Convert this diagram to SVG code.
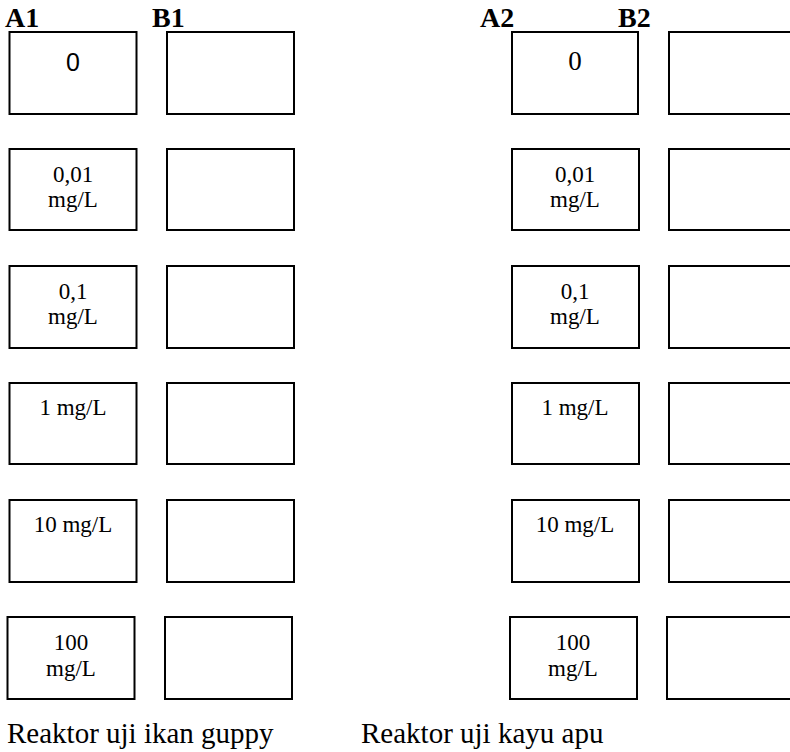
<svg xmlns="http://www.w3.org/2000/svg" width="790" height="752" viewBox="0 0 790 752">
<style>
.b{fill:#fff;stroke:#000;stroke-width:2}
.t{font-family:"Liberation Serif","Times New Roman",serif;font-size:23px;fill:#000;text-anchor:middle}
.s{font-family:"Liberation Sans",Arial,sans-serif;font-size:25px;fill:#000;text-anchor:middle}
.z{font-family:"Liberation Serif","Times New Roman",serif;font-size:27px;fill:#000;text-anchor:middle}
.h{font-family:"Liberation Serif","Times New Roman",serif;font-size:28px;font-weight:bold;fill:#000}
.c{font-family:"Liberation Serif","Times New Roman",serif;font-size:29px;fill:#000}
</style>
<rect width="790" height="752" fill="#fff"/>
<g id="headers">
<text class="h" x="5" y="27">A1</text>
<text class="h" x="152" y="27">B1</text>
<text class="h" x="480" y="27">A2</text>
<text class="h" x="618" y="27">B2</text>
</g>
<g id="A1-0"><rect class="b" x="9.5" y="32" width="127" height="82"/><text class="s" x="73" y="71">0</text></g>
<g id="B1-0"><rect class="b" x="167" y="32" width="127" height="82"/></g>
<g id="A1-001"><rect class="b" x="9.5" y="149" width="127" height="81"/><text class="t" x="73" y="182">0,01</text><text class="t" x="73" y="207">mg/L</text></g>
<g id="B1-001"><rect class="b" x="167" y="149" width="127" height="81"/></g>
<g id="A1-01"><rect class="b" x="9.5" y="266" width="127" height="82"/><text class="t" x="73" y="299">0,1</text><text class="t" x="73" y="324">mg/L</text></g>
<g id="B1-01"><rect class="b" x="167" y="266" width="127" height="82"/></g>
<g id="A1-1"><rect class="b" x="9.5" y="383" width="127" height="81"/><text class="t" x="73" y="415">1 mg/L</text></g>
<g id="B1-1"><rect class="b" x="167" y="383" width="127" height="81"/></g>
<g id="A1-10"><rect class="b" x="9.5" y="500" width="127" height="82"/><text class="t" x="73" y="532">10 mg/L</text></g>
<g id="B1-10"><rect class="b" x="167" y="500" width="127" height="82"/></g>
<g id="A1-100"><rect class="b" x="7.5" y="617" width="127" height="82"/><text class="t" x="71" y="650">100</text><text class="t" x="71" y="676">mg/L</text></g>
<g id="B1-100"><rect class="b" x="165" y="617" width="127" height="82"/></g>

<g id="A2-0"><rect class="b" x="512" y="32" width="126" height="82"/><text class="z" x="575" y="70">0</text></g>
<g id="B2-0"><rect class="b" x="669" y="32" width="127" height="82"/></g>
<g id="A2-001"><rect class="b" x="512" y="149" width="127" height="81"/><text class="t" x="575" y="182">0,01</text><text class="t" x="575" y="207">mg/L</text></g>
<g id="B2-001"><rect class="b" x="669" y="149" width="127" height="81"/></g>
<g id="A2-01"><rect class="b" x="512" y="266" width="127" height="82"/><text class="t" x="575" y="299">0,1</text><text class="t" x="575" y="324">mg/L</text></g>
<g id="B2-01"><rect class="b" x="669" y="266" width="127" height="82"/></g>
<g id="A2-1"><rect class="b" x="512" y="383" width="127" height="81"/><text class="t" x="575" y="415">1 mg/L</text></g>
<g id="B2-1"><rect class="b" x="669" y="383" width="127" height="81"/></g>
<g id="A2-10"><rect class="b" x="512" y="500" width="127" height="82"/><text class="t" x="575" y="532">10 mg/L</text></g>
<g id="B2-10"><rect class="b" x="669" y="500" width="127" height="82"/></g>
<g id="A2-100"><rect class="b" x="510" y="617" width="127" height="82"/><text class="t" x="573" y="650">100</text><text class="t" x="573" y="676">mg/L</text></g>
<g id="B2-100"><rect class="b" x="667" y="617" width="127" height="82"/></g>

<g id="captions">
<text class="c" x="7" y="743">Reaktor uji ikan guppy</text>
<text class="c" x="361" y="743">Reaktor uji kayu apu</text>
</g>
<g id="connectors"/>
</svg>
